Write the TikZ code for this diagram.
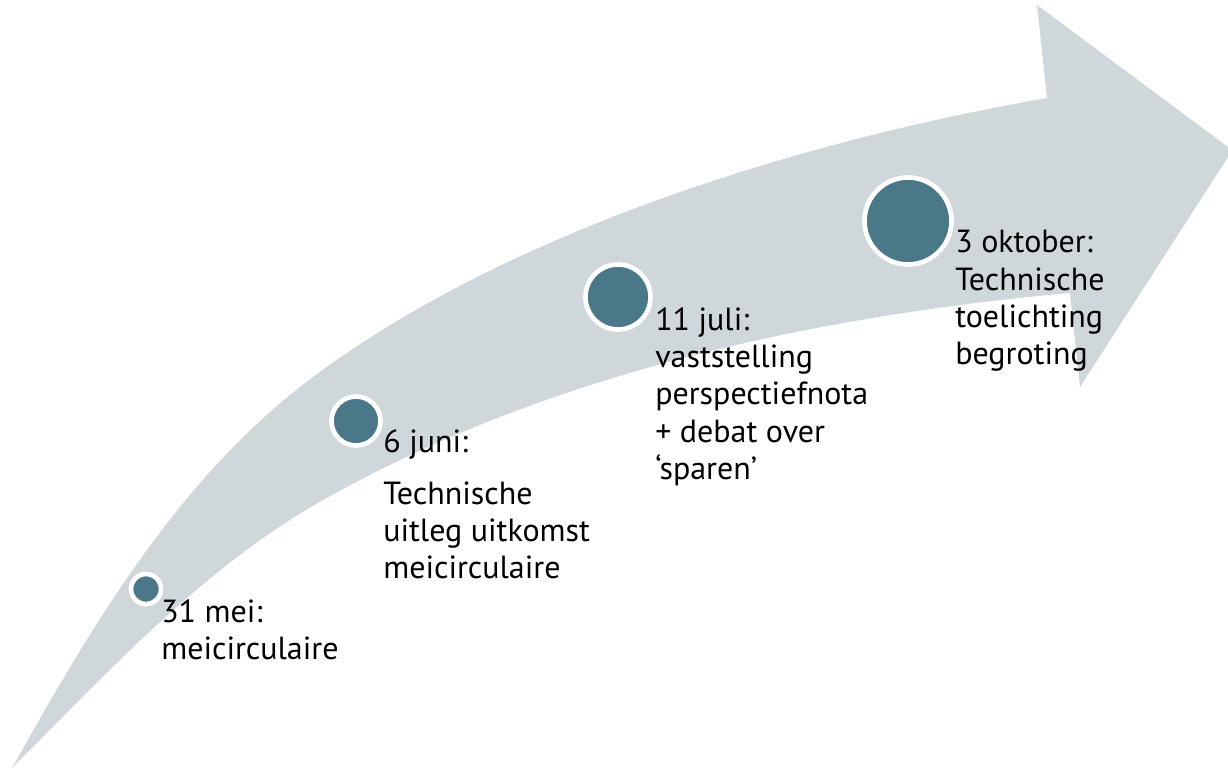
\documentclass[tikz,border=0pt]{standalone}
\usepackage{fontspec}
\setmainfont{PT Sans}
\usetikzlibrary{positioning}

\definecolor{bandgray}{HTML}{D0D7DB}
\definecolor{dotblue}{HTML}{4B7889}

\begin{document}
\begin{tikzpicture}[x=0.75pt,y=-0.75pt]

  \tikzset{milestone/.style={circle, fill=dotblue, draw=white,
  		line width=3.5pt, inner sep=0pt}, }
  \tikzset{datelabel/.style={anchor=north west, align=left, inner sep=0pt,
  		font=\fontsize{24}{28}\selectfont}, }

  \useasboundingbox (0,0) rectangle (1228,770);

  % the curved band with its head
  \fill[bandgray] (12,768) .. controls (90,629) and (174,486) .. (300,387)
    .. controls (490,239) and (784,144) .. (1047,98)
    -- (1037,5) -- (1228,147) -- (1228,157) -- (1080,387) -- (1070,293)
    .. controls (813,316) and (547,374) .. (323,500)
    .. controls (204,567) and (109,671) .. (12,768)
    -- cycle;

   \node[milestone, minimum size=22.5pt] (c1) at (146,589) {};
   \node[milestone, minimum size=36.75pt] (c2) at (356,421) {};
   \node[milestone, minimum size=48.75pt] (c3) at (618,297) {};
   \node[milestone, minimum size=65.25pt] (c4) at (908,221) {};
%
   \node[datelabel] (t1) at (161,599) {31 mei:\\meicirculaire};
   \node[datelabel] (t2) at (383,429) {6 juni:\\[11pt]Technische\\uitleg uitkomst\\meicirculaire};
   \node[datelabel] (t3) at (655,307) {11 juli:\\vaststelling\\perspectiefnota\\+ debat over\\‘sparen’};
   \node[datelabel] (t4) at (955,230) {3 oktober:\\Technische\\toelichting\\begroting};
%
\end{tikzpicture}
\end{document}
